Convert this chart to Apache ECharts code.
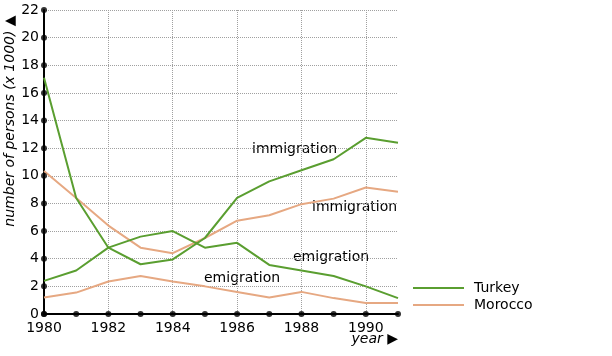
<!DOCTYPE html>
<html>
<head>
<meta charset="utf-8">
<script src="https://cdn.jsdelivr.net/npm/echarts@6/dist/echarts.min.js"></script>
<style>html,body{margin:0;padding:0;background:#fff}#c{width:612px;height:356px}</style>
</head>
<body>
<div id="c"></div>
<script>
var years = ['1980','1981','1982','1983','1984','1985','1986','1987','1988','1989','1990','1991'];
var yTicks = [0,2,4,6,8,10,12,14,16,18,20,22];
var turkeyA = [2.4, 3.15, 4.8, 5.6, 6.0, 4.8, 5.15, 3.55, 3.15, 2.75, 2.0, 1.15];
var turkeyB = [17.1, 8.4, 4.8, 3.6, 3.95, 5.5, 8.4, 9.6, 10.4, 11.2, 12.75, 12.4];
var moroccoImm = [10.35, 8.4, 6.4, 4.8, 4.4, 5.5, 6.75, 7.15, 7.95, 8.35, 9.15, 8.85];
var moroccoEmi = [1.2, 1.55, 2.35, 2.75, 2.35, 2.0, 1.6, 1.2, 1.6, 1.15, 0.8, 0.8];

var GREEN = '#5a9e30';
var TAN = '#e6a882';
var FONT = 'DejaVu Sans';

var chart = echarts.init(document.getElementById('c'), null, {renderer:'canvas'});
var lineStyle = function(c){ return {width:2, color:c}; };
chart.setOption({
  animation:false,
  grid:{left:44, right:214, top:10, bottom:42, containLabel:false},
  legend:{
    orient:'vertical', left:408, top:275, itemWidth:51, itemHeight:2, itemGap:1,
    icon:'rect',
    data:['Turkey','Morocco'],
    textStyle:{fontFamily:FONT, fontSize:14, color:'#000', padding:[0,0,0,5], lineHeight:16}
  },
  xAxis:{
    type:'category', data:years, boundaryGap:false,
    axisLine:{lineStyle:{color:'#000', width:2}},
    axisTick:{show:false},
    axisLabel:{interval:1, color:'#000', fontFamily:FONT, fontSize:14, margin:7},
    splitLine:{show:true, lineStyle:{color:'#a0a0a0', type:'dotted', width:1}}
  },
  yAxis:{
    type:'value', min:0, max:22, interval:2,
    axisLine:{show:true, lineStyle:{color:'#000', width:2}},
    axisTick:{show:false},
    axisLabel:{color:'#000', fontFamily:FONT, fontSize:14, margin:5},
    splitLine:{show:true, lineStyle:{color:'#a0a0a0', type:'dotted', width:1}}
  },
  series:[
    {name:'Morocco', type:'line', data:moroccoImm, symbol:'none', lineStyle:lineStyle(TAN), itemStyle:{color:TAN}},
    {name:'Morocco', type:'line', data:moroccoEmi, symbol:'none', lineStyle:lineStyle(TAN), itemStyle:{color:TAN}},
    {name:'Turkey', type:'line', data:turkeyA, symbol:'none', lineStyle:lineStyle(GREEN), itemStyle:{color:GREEN}},
    {name:'Turkey', type:'line', data:turkeyB, symbol:'none', lineStyle:lineStyle(GREEN), itemStyle:{color:GREEN}},
    {type:'scatter', data:years.map(function(y){return [y,0];}), symbolSize:6, itemStyle:{color:'#000'}, clip:false, silent:true, z:5},
    {type:'scatter', data:yTicks.map(function(v){return [years[0],v];}), symbolSize:6, itemStyle:{color:'#000'}, clip:false, silent:true, z:5}
  ],
  graphic:[
    {type:'text', left:252, top:142, style:{text:'immigration', font:'14px "DejaVu Sans"', fill:'#000'}},
    {type:'text', left:312, top:200, style:{text:'immigration', font:'14px "DejaVu Sans"', fill:'#000'}},
    {type:'text', left:293, top:250, style:{text:'emigration', font:'14px "DejaVu Sans"', fill:'#000'}},
    {type:'text', left:204, top:271, style:{text:'emigration', font:'14px "DejaVu Sans"', fill:'#000'}},
    {type:'text', x:10, y:121, rotation:Math.PI/2, style:{text:'number of persons (x 1000) \u25B2', font:'italic 14px "DejaVu Sans"', fill:'#000', textAlign:'center', textVerticalAlign:'middle'}},
    {type:'text', right:214, top:332, style:{text:'year \u25B6', font:'italic 14px "DejaVu Sans"', fill:'#000'}}
  ]
});
</script>
</body>
</html>
